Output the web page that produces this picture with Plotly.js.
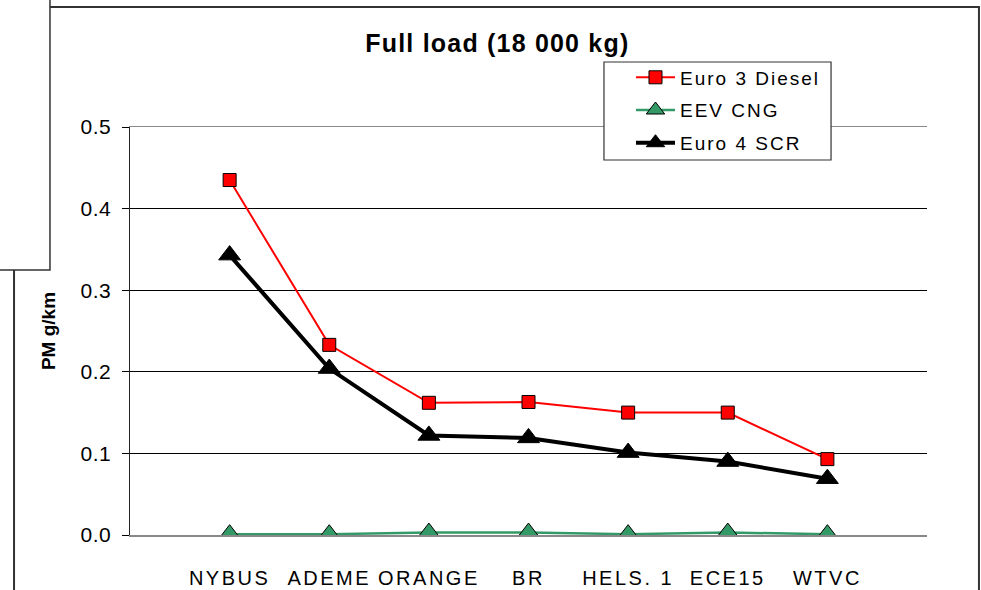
<!DOCTYPE html>
<html>
<head>
<meta charset="utf-8">
<script src="https://cdn.plot.ly/plotly-3.0.1.min.js"></script>
<style>
html,body{margin:0;padding:0;background:#fff;}
#chart{width:981px;height:590px;}
#chart .gtitle{letter-spacing:1.2px;}
#chart .xtick text{letter-spacing:2.5px;}
#chart .ytick text{letter-spacing:0.5px;}
.legendtext{letter-spacing:2px;}
</style>
</head>
<body>
<div id="chart"></div>
<script>
const categories = ["NYBUS", "ADEME", "ORANGE", "BR", "HELS. 1", "ECE15", "WTVC"];
const euro3Diesel = [0.435, 0.233, 0.162, 0.163, 0.150, 0.150, 0.093];
const eevCng = [0.001, 0.001, 0.003, 0.003, 0.001, 0.003, 0.001];
const euro4Scr = [0.343, 0.204, 0.122, 0.119, 0.101, 0.090, 0.069];
const yTicks = [0.0, 0.1, 0.2, 0.3, 0.4, 0.5];

const idx = categories.map((c, i) => i);
const fontFam = "Liberation Sans, Arial, sans-serif";

const traces = [
  {x: idx, y: euro3Diesel, name: "Euro 3 Diesel", legendgroup: "a", mode: "lines+markers",
   line: {color: "#ff0000", width: 2},
   marker: {symbol: "square", size: 13, color: "#ff0000", line: {color: "#000", width: 1}}},
  {x: idx, y: eevCng, name: "EEV CNG", legendgroup: "b", mode: "lines+markers",
   line: {color: "#339966", width: 2.5},
   marker: {symbol: "triangle-up", size: 19, color: "#339966", line: {color: "#000", width: 1}}},
  {x: idx, y: euro4Scr, name: "Euro 4 SCR", legendgroup: "c", mode: "lines+markers",
   line: {color: "#000000", width: 4},
   marker: {symbol: "triangle-up", size: 19, color: "#000000", line: {color: "#000", width: 1}}}
];

const layout = {
  width: 981, height: 590,
  margin: {l: 130, r: 54, t: 127, b: 55},
  paper_bgcolor: "#fff", plot_bgcolor: "#fff",
  font: {family: fontFam, color: "#000", size: 18},
  title: {text: "<b>Full load (18 000 kg)</b>", font: {size: 25, family: fontFam}, x: 0.507, xanchor: "center", y: 0.927, yanchor: "middle"},
  showlegend: true,
  legend: {x: 0.6286, y: 1.168, xanchor: "left", yanchor: "top", borderwidth: 0,
    bgcolor: "rgba(0,0,0,0)", font: {size: 19, family: fontFam}, traceorder: "grouped", tracegroupgap: 5, itemwidth: 39},
  xaxis: {range: [-1.0, 7.0], tickvals: idx, ticktext: categories, showgrid: false, zeroline: false,
    showline: true, mirror: true, linecolor: "#888", linewidth: 1.5, ticks: "", tickfont: {size: 20},
    ticklabelstandoff: 24, fixedrange: true},
  yaxis: {range: [0, 0.5], tickvals: yTicks, ticktext: yTicks.map(v => v.toFixed(1)),
    showgrid: true, gridcolor: "#000", gridwidth: 1, zeroline: false,
    showline: true, linecolor: "#222", linewidth: 1.5, ticks: "outside", ticklen: 7, tickcolor: "#000",
    tickfont: {size: 21}, ticklabelstandoff: 6,
    title: {text: "<b>PM g/km</b>", font: {size: 19}, standoff: 21}},
  shapes: [
    {type: "rect", xref: "paper", yref: "paper", x0: -0.1455, x1: 1.0652, y0: -0.2, y1: 1.294,
     line: {color: "#333", width: 2}, fillcolor: "rgba(0,0,0,0)", layer: "below"},
    {type: "rect", xref: "paper", yref: "paper", x0: -0.17, x1: -0.1004, y0: 0.6495, y1: 1.4,
     line: {color: "#333", width: 1.5}, fillcolor: "#fff", layer: "above"},
    {type: "rect", xref: "paper", yref: "paper", x0: 0.5947, x1: 0.8796, y0: 0.9191, y1: 1.1593,
     line: {color: "#333", width: 1.2}, fillcolor: "#fff", layer: "above"}
  ]
};

Plotly.newPlot("chart", traces, layout, {displayModeBar: false, staticPlot: true});
</script>
</body>
</html>
